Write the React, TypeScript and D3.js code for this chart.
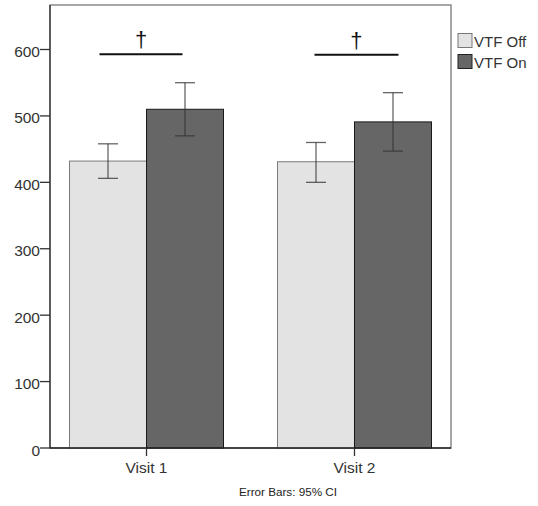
import React from "react";
import * as d3 from "d3";

const categories = ["Visit 1", "Visit 2"];
const series = ["VTF Off", "VTF On"];
const means = [
  [432, 510],
  [431, 491],
];
const ciLow = [
  [406, 470],
  [400, 447],
];
const ciHigh = [
  [458, 550],
  [460, 535],
];
const sigLevel = [593, 592];
const sigMark = ["†", "†"];
const yTicks = [0, 100, 200, 300, 400, 500, 600];
const footnote = "Error Bars: 95% CI";

const fills = ["#e3e3e3", "#666666"];
const strokes = ["#7a7a7a", "#1a1a1a"];

export default function App() {
  const W = 538, H = 506;
  const left = 50, right = 451, top = 5, bottom = 448;
  const y = d3.scaleLinear().domain([0, 667]).range([bottom, top]);
  const x = d3.scalePoint<string>().domain(categories).range([left, right]).padding(0.464);
  const bw = 77;
  const font = "'Liberation Sans', Arial, sans-serif";
  const sigOffsets = [[-47, 36], [-40, 44]];

  return (
    <svg width={W} height={H} style={{ position: "absolute", left: 0, top: 0, background: "#fff" }} fontFamily={font}>
      <rect x={0} y={0} width={W} height={H} fill="#fff" />
      <rect x={left} y={top} width={right - left} height={bottom - top} fill="#fff" stroke="#8a8a8a" strokeWidth={1.5} />
      {categories.map((c, ci) => {
        const cx = x(c)!;
        const [a, b] = sigOffsets[ci];
        const mid = cx + (a + b) / 2;
        return (
          <g key={c}>
            {series.map((s, si) => {
              const x0 = cx + (si === 0 ? -bw : 0);
              const yv = y(means[ci][si]);
              return (
                <rect key={s} x={x0} y={yv} width={bw} height={bottom - yv} fill={fills[si]} stroke={strokes[si]} strokeWidth={1} />
              );
            })}
            {series.map((s, si) => {
              const ex = cx + (si === 0 ? -bw / 2 : bw / 2);
              return (
                <g key={s} stroke="#333" strokeOpacity={0.75} strokeWidth={1.3}>
                  <line x1={ex} x2={ex} y1={y(ciLow[ci][si])} y2={y(ciHigh[ci][si])} />
                  <line x1={ex - 10} x2={ex + 10} y1={y(ciLow[ci][si])} y2={y(ciLow[ci][si])} />
                  <line x1={ex - 10} x2={ex + 10} y1={y(ciHigh[ci][si])} y2={y(ciHigh[ci][si])} />
                </g>
              );
            })}
            <line x1={cx + a} x2={cx + b} y1={y(sigLevel[ci])} y2={y(sigLevel[ci])} stroke="#111" strokeWidth={2} />
            <text x={mid} y={y(sigLevel[ci]) - 7} textAnchor="middle" fontSize={22} fill="#111">{sigMark[ci]}</text>
          </g>
        );
      })}
      {/* axes */}
      <line x1={left} x2={left} y1={top} y2={bottom} stroke="#333" strokeWidth={1.3} />
      <line x1={left} x2={right} y1={bottom} y2={bottom} stroke="#222" strokeWidth={1.3} />
      {yTicks.map((t) => (
        <g key={t}>
          <line x1={left - 10} x2={left} y1={y(t)} y2={y(t)} stroke="#333" strokeWidth={1.3} />
          <text x={left - 10} y={y(t) + 7.5} textAnchor="end" fontSize={15.5} fill="#333">{t}</text>
        </g>
      ))}
      {categories.map((c) => (
        <g key={c}>
          <line x1={x(c)!} x2={x(c)!} y1={bottom} y2={bottom + 8} stroke="#333" strokeWidth={1.3} />
          <text x={x(c)!} y={bottom + 25} textAnchor="middle" fontSize={15.5} fill="#333">{c}</text>
        </g>
      ))}
      <text x={288} y={bottom + 48} textAnchor="middle" fontSize={11.7} fill="#222">{footnote}</text>
      {/* legend */}
      {series.map((s, si) => (
        <g key={s}>
          <rect x={458} y={33.5 + si * 21} width={14} height={14} fill={fills[si]} stroke={si === 0 ? "#777" : "#222"} strokeWidth={1} />
          <text x={474} y={47 + si * 21} fontSize={15} fill="#333">{s}</text>
        </g>
      ))}
    </svg>
  );
}
